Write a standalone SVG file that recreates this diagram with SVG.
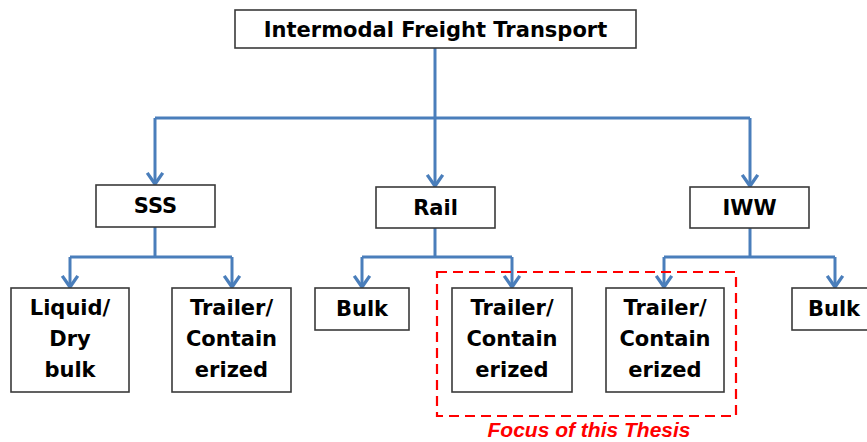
<svg xmlns="http://www.w3.org/2000/svg" width="867" height="442" viewBox="0 0 867 442">
<style>
.box{fill:#fff;stroke:#3a3a3a;stroke-width:1.6}
.t{font-family:"DejaVu Sans",Verdana,sans-serif;font-weight:bold;font-size:21px;fill:#000;text-anchor:middle}
.c{fill:none;stroke:#4a7ebb;stroke-width:3}
.focus{fill:none;stroke:#ff0000;stroke-width:2.2;stroke-dasharray:10,6}
.ft{font-family:"Liberation Sans",Arial,sans-serif;font-weight:bold;font-style:italic;font-size:21px;fill:#ff0000;text-anchor:middle}
</style>
<defs>
<marker id="arr" markerUnits="userSpaceOnUse" markerWidth="20" markerHeight="20" viewBox="-12 -9 14 18" refX="0" refY="0" orient="auto">
<path d="M-10,-7 L0,0 L-10,7" fill="none" stroke="#4a7ebb" stroke-width="3"/>
</marker>
</defs>
<rect width="867" height="442" fill="#fff"/>
<g id="connectors">
<path class="c" d="M435,48 V118"/>
<path class="c" d="M155,118 H750"/>
<path class="c" d="M155,118 V184" marker-end="url(#arr)"/>
<path class="c" d="M435,118 V186" marker-end="url(#arr)"/>
<path class="c" d="M750,118 V186" marker-end="url(#arr)"/>
<path class="c" d="M155,227 V257"/>
<path class="c" d="M70,257 H232"/>
<path class="c" d="M70,257 V287" marker-end="url(#arr)"/>
<path class="c" d="M232,257 V287" marker-end="url(#arr)"/>
<path class="c" d="M435,228 V257"/>
<path class="c" d="M362,257 H512"/>
<path class="c" d="M362,257 V287" marker-end="url(#arr)"/>
<path class="c" d="M512,257 V287" marker-end="url(#arr)"/>
<path class="c" d="M750,228 V257"/>
<path class="c" d="M664,257 H835"/>
<path class="c" d="M664,257 V287" marker-end="url(#arr)"/>
<path class="c" d="M835,257 V287" marker-end="url(#arr)"/>
</g>
<g id="root"><rect class="box" x="235" y="10" width="401" height="38"/><text class="t" x="435.5" y="36.5">Intermodal Freight Transport</text></g>
<g id="sss"><rect class="box" x="96" y="185" width="119" height="42"/><text class="t" x="155.5" y="213">SSS</text></g>
<g id="rail"><rect class="box" x="376" y="187" width="119" height="41"/><text class="t" x="435.5" y="214.5">Rail</text></g>
<g id="iww"><rect class="box" x="690" y="187" width="119" height="41"/><text class="t" x="749.5" y="214.5">IWW</text></g>
<g id="sss-bulk"><rect class="box" x="11" y="288" width="118" height="104"/><text class="t" x="70" y="315">Liquid/</text><text class="t" x="70" y="346">Dry</text><text class="t" x="70" y="377">bulk</text></g>
<g id="sss-trailer"><rect class="box" x="172" y="288" width="119" height="104"/><text class="t" x="231.5" y="315">Trailer/</text><text class="t" x="231.5" y="346">Contain</text><text class="t" x="231.5" y="377">erized</text></g>
<g id="rail-bulk"><rect class="box" x="315" y="288" width="94" height="42"/><text class="t" x="362" y="315.5">Bulk</text></g>
<g id="rail-trailer"><rect class="box" x="452" y="288" width="120" height="104"/><text class="t" x="512" y="315">Trailer/</text><text class="t" x="512" y="346">Contain</text><text class="t" x="512" y="377">erized</text></g>
<g id="iww-trailer"><rect class="box" x="606" y="288" width="118" height="104"/><text class="t" x="665" y="315">Trailer/</text><text class="t" x="665" y="346">Contain</text><text class="t" x="665" y="377">erized</text></g>
<g id="iww-bulk"><rect class="box" x="792" y="288" width="90" height="42"/><text class="t" x="834" y="315.5">Bulk</text></g>
<g id="focus"><rect class="focus" x="437" y="272" width="299" height="144"/><text class="ft" x="589" y="437">Focus of this Thesis</text></g>
</svg>
